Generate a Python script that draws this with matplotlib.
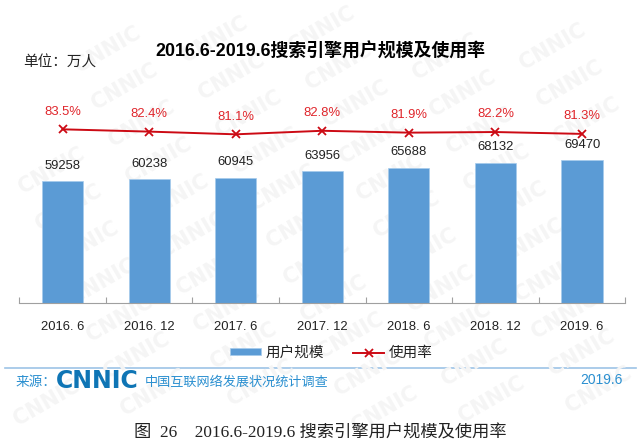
# -*- coding: utf-8 -*-
import matplotlib
matplotlib.use('Agg')
import numpy as np
import matplotlib.pyplot as plt

plt.rcParams['font.family'] = ['Liberation Sans', 'Noto Sans CJK SC', 'DejaVu Sans']

# data
periods = ['2016. 6', '2016. 12', '2017. 6', '2017. 12', '2018. 6', '2018. 12', '2019. 6']
users = [59258, 60238, 60945, 63956, 65688, 68132, 69470]
rate = [83.5, 82.4, 81.1, 82.8, 81.9, 82.2, 81.3]
rate_labels = ['83.5%', '82.4%', '81.1%', '82.8%', '81.9%', '82.2%', '81.3%']

W, H = 641, 446
BLUE = '#5B9BD5'
RED = '#E0252B'
LINE_RED = '#CC0A14'
CYAN = '#2A8FD0'

fig = plt.figure(figsize=(W / 100, H / 100), dpi=100, facecolor='white')

# overlay in pixel coords, for watermark and page furniture
page = fig.add_axes([0, 0, 1, 1], zorder=0)
page.set_xlim(0, W)
page.set_ylim(H, 0)
page.axis('off')

# CNNIC watermark, skew lattice, only the ones that fit on the page
for i in range(-6, 10):
    for j in range(-2, 14):
        wx = 108 + 107 * i + 17 * j
        wy = 50 - 10 * i + 37 * j
        if 38 < wx < W - 38 and 26 < wy < H - 26:
            page.text(wx, wy, 'CNNIC', color='#F5F5F5', fontsize=15, fontweight='bold',
                      rotation=30, ha='center', va='center', family='DejaVu Sans')

# main axes: baseline at y=302.7
left, right, top, bottom = 19.3, 625.3, 100, 302.7
ax = fig.add_axes([left / W, 1 - bottom / H, (right - left) / W, (bottom - top) / H], zorder=1)
ax.patch.set_alpha(0)
x = np.arange(len(periods))
ax.bar(x, users, width=0.474, color=BLUE, edgecolor='#A5CBEC', linewidth=0.5, label='用户规模')
ax.set_xlim(-0.5, 6.5)
ax.set_ylim(0, 98700)
for i, v in enumerate(users):
    ax.annotate(str(v), (i, v), xytext=(0, 6.8), textcoords='offset points', ha='center',
                va='bottom', fontsize=9.4, color='#222222')

for s in ['top', 'left', 'right']:
    ax.spines[s].set_visible(False)
ax.spines['bottom'].set_color('#A0A0A0')
ax.set_yticks([])
ax.set_xticks(np.arange(-0.5, 7, 1))
ax.set_xticklabels([])
ax.tick_params(axis='x', direction='in', length=4.3, color='#A0A0A0', width=0.8)
for i, p in enumerate(periods):
    ax.annotate(p, (i, 0), xytext=(0, -17.5), textcoords='offset points', ha='center',
                va='center', fontsize=9.4, color='#222222')

# rate line on second axis
ax2 = ax.twinx()
ax2.patch.set_alpha(0)
ax2.plot(x, rate, color=LINE_RED, lw=1.4, marker='x', ms=6, mew=1.3, label='使用率')
ax2.set_ylim(0.13, 97.6)
ax2.set_yticks([])
for s in ax2.spines.values():
    s.set_visible(False)
for i, v in enumerate(rate):
    ax2.annotate(rate_labels[i], (i, v), xytext=(0, 8.4), textcoords='offset points', ha='center',
                 va='bottom', fontsize=9.4, color=RED)

# legend
h1, l1 = ax.get_legend_handles_labels()
h2, l2 = ax2.get_legend_handles_labels()
fig.legend(h1 + h2, l1 + l2, loc='center', bbox_to_anchor=(331.5 / W, 1 - 353 / H), ncol=2, frameon=False,
           fontsize=10.5, handlelength=2.1, handleheight=0.4, columnspacing=2.0, handletextpad=0.35,
           labelcolor='#222222')

# titles
page.text(320, 51.5, '2016.6-2019.6搜索引擎用户规模及使用率', ha='center', va='center', fontsize=12.9,
          fontweight='bold', color='black')
page.text(23, 62.5, '单位：万人', ha='left', va='center', fontsize=10.5, color='#222222')

# footer
page.plot([5, 636], [368, 368], color='#9DC3E6', lw=1.2)
page.text(16, 382, '来源：', ha='left', va='center', fontsize=9.8, color=CYAN)
page.text(56, 381, 'CNNIC', ha='left', va='center', fontsize=17, fontweight='bold', color='#0F75B5',
          family='DejaVu Sans')
page.text(145, 382, '中国互联网络发展状况统计调查', ha='left', va='center', fontsize=9.45, color=CYAN)
page.text(623, 380.5, '2019.6', ha='right', va='center', fontsize=10, color=CYAN)
page.text(320, 433.5, '图  26    2016.6-2019.6 搜索引擎用户规模及使用率', ha='center', va='center', fontsize=12.4,
          color='#222222', family=['Liberation Serif', 'Noto Sans CJK SC'])

fig.savefig('out.png', dpi=100)
